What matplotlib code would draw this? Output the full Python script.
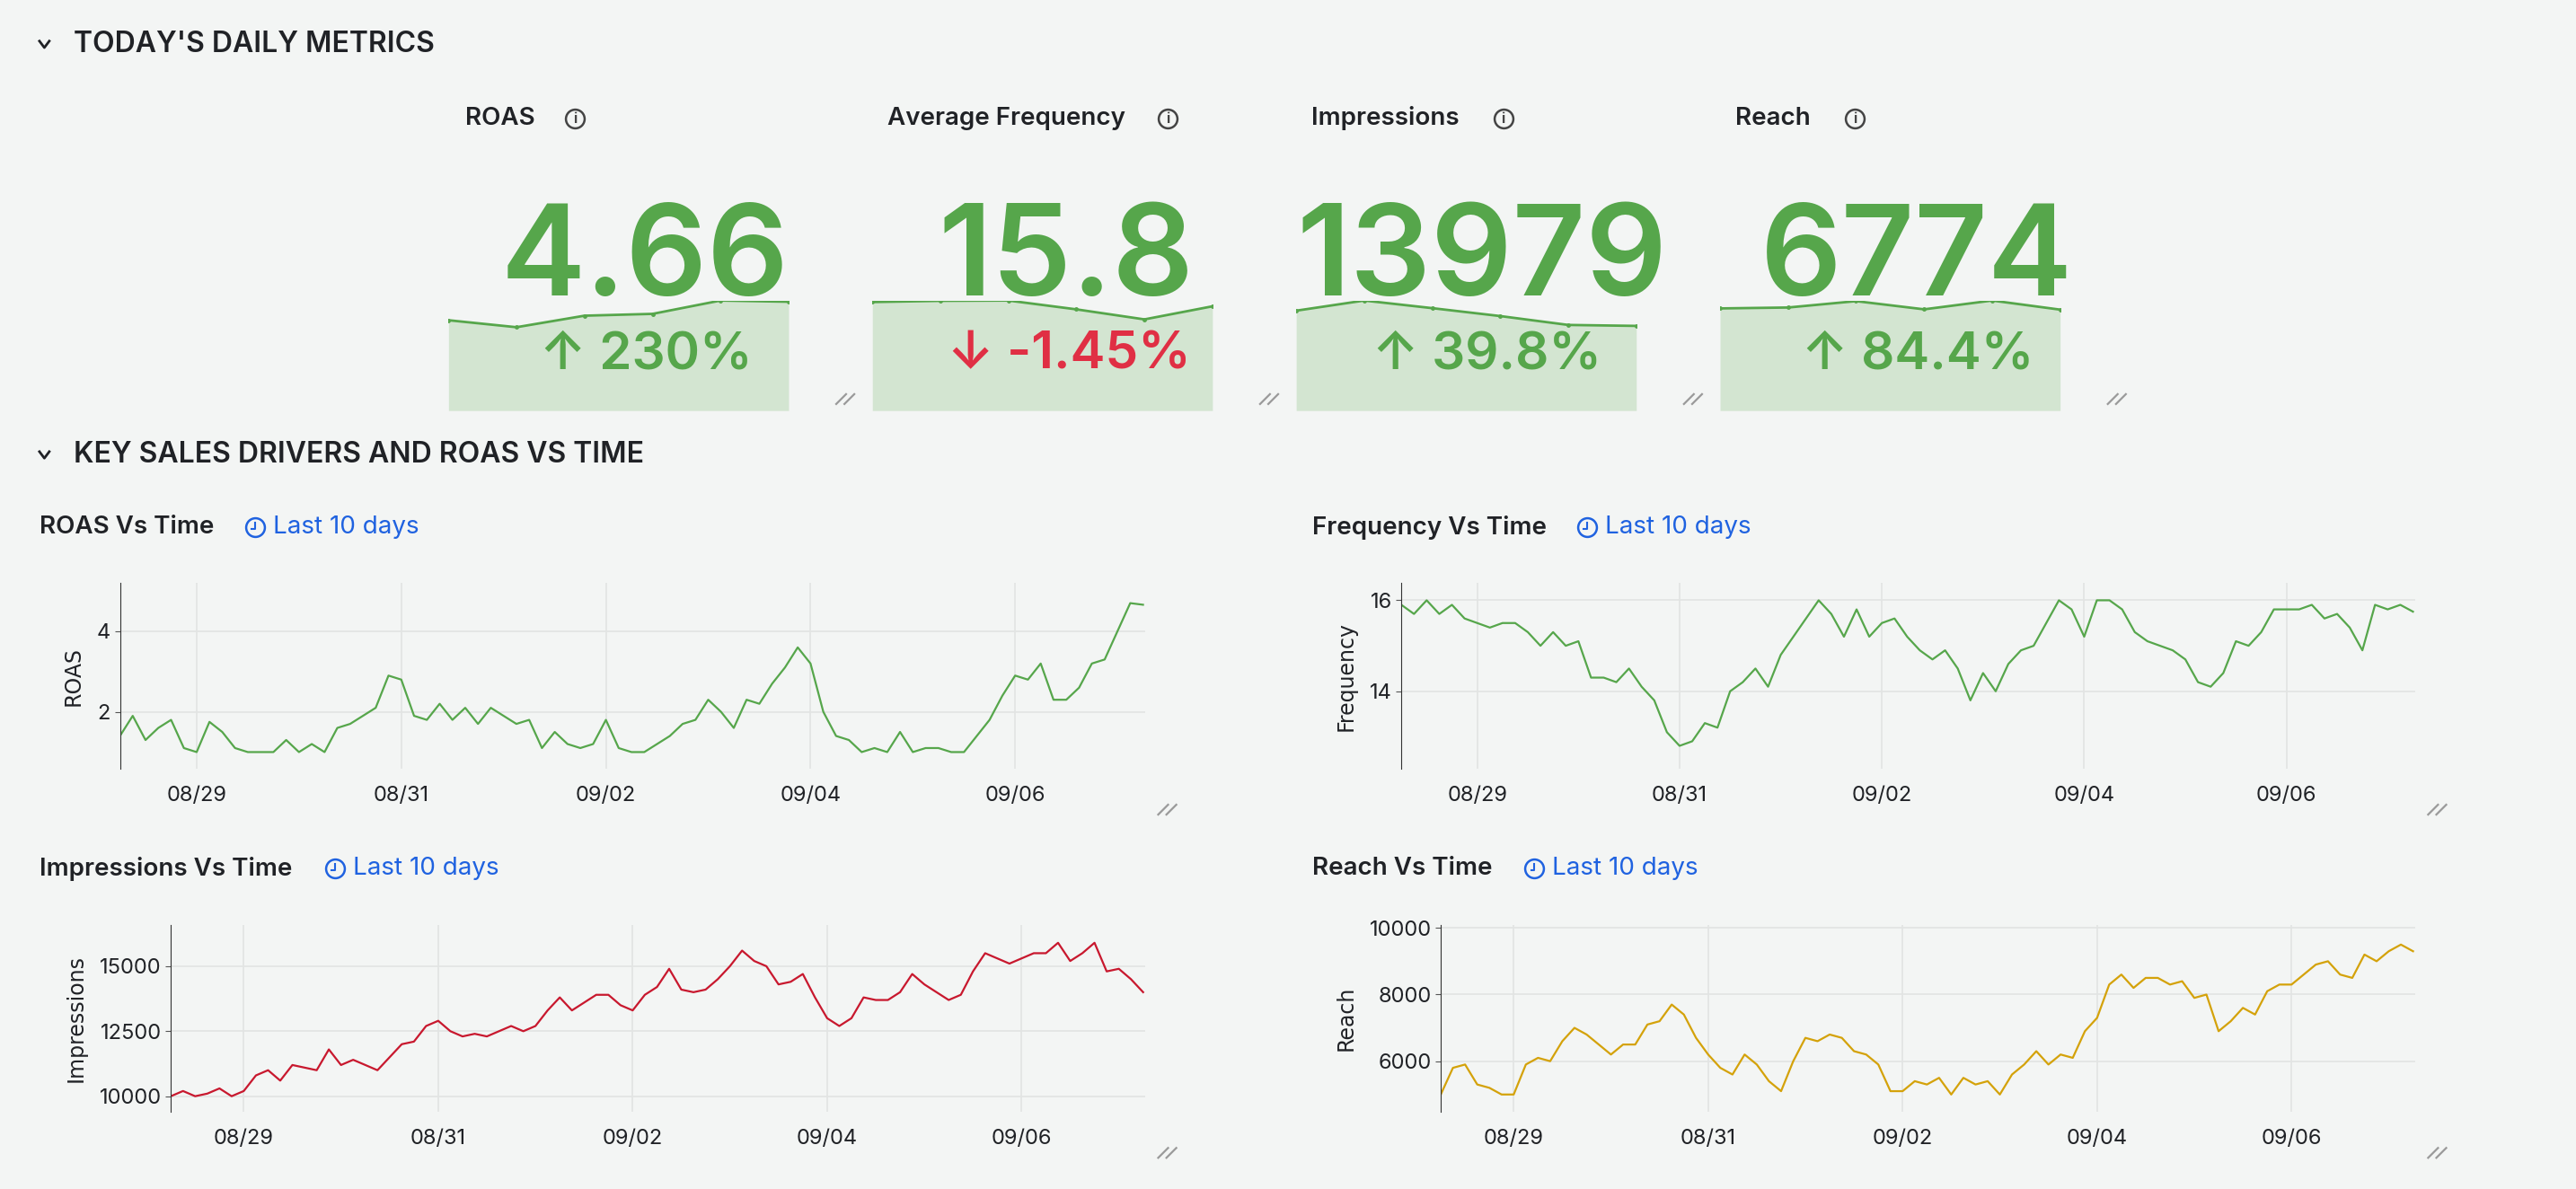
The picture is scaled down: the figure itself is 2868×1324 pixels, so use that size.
import matplotlib
matplotlib.use("Agg")
import matplotlib.pyplot as plt
import numpy as np
from matplotlib.lines import Line2D

plt.rcParams['font.family'] = ['Inter', 'DejaVu Sans']

# ---- data ----
kpi_titles = ['ROAS', 'Average Frequency', 'Impressions', 'Reach']
kpi_values = ['4.66', '15.8', '13979', '6774']
kpi_changes = ['230%', '-1.45%', '39.8%', '84.4%']
kpi_up = [True, False, True, True]
roas_spark = [298, 275, 313, 319, 363, 359]
freq_spark = [357, 361, 362, 333, 300, 343]
impr_spark = [315, 347, 323, 298, 270, 267]
reach_spark = [337, 340, 361, 334, 363, 333]

tick_days = [1, 3, 5, 7, 9]
tick_labels = ['08/29', '08/31', '09/02', '09/04', '09/06']

roas = [1.4, 1.9, 1.3, 1.6, 1.8, 1.1, 1.0, 1.75, 1.5, 1.1, 1.0, 1.0, 1.0, 1.3, 1.0, 1.2,
        1.0, 1.6, 1.7, 1.9, 2.1, 2.9, 2.8, 1.9, 1.8, 2.2, 1.8, 2.1, 1.7, 2.1, 1.9, 1.7,
        1.8, 1.1, 1.5, 1.2, 1.1, 1.2, 1.8, 1.1, 1.0, 1.0, 1.2, 1.4, 1.7, 1.8, 2.3, 2.0,
        1.6, 2.3, 2.2, 2.7, 3.1, 3.6, 3.2, 2.0, 1.4, 1.3, 1.0, 1.1, 1.0, 1.5, 1.0, 1.1,
        1.1, 1.0, 1.0, 1.4, 1.8, 2.4, 2.9, 2.8, 3.2, 2.3, 2.3, 2.6, 3.2, 3.3, 4.0, 4.7, 4.66]
freq = [15.9, 15.7, 16.0, 15.7, 15.9, 15.6, 15.5, 15.4, 15.5, 15.5, 15.3, 15.0, 15.3, 15.0,
        15.1, 14.3, 14.3, 14.2, 14.5, 14.1, 13.8, 13.1, 12.8, 12.9, 13.3, 13.2, 14.0, 14.2,
        14.5, 14.1, 14.8, 15.2, 15.6, 16.0, 15.7, 15.2, 15.8, 15.2, 15.5, 15.6, 15.2, 14.9,
        14.7, 14.9, 14.5, 13.8, 14.4, 14.0, 14.6, 14.9, 15.0, 15.5, 16.0, 15.8, 15.2, 16.0,
        16.0, 15.8, 15.3, 15.1, 15.0, 14.9, 14.7, 14.2, 14.1, 14.4, 15.1, 15.0, 15.3, 15.8,
        15.8, 15.8, 15.9, 15.6, 15.7, 15.4, 14.9, 15.9, 15.8, 15.9, 15.75]
impressions = [10000, 10200, 10000, 10100, 10300, 10000, 10200, 10800, 11000, 10600, 11200,
               11100, 11000, 11800, 11200, 11400, 11200, 11000, 11500, 12000, 12100, 12700,
               12900, 12500, 12300, 12400, 12300, 12500, 12700, 12500, 12700, 13300, 13800,
               13300, 13600, 13900, 13900, 13500, 13300, 13900, 14200, 14900, 14100, 14000,
               14100, 14500, 15000, 15600, 15200, 15000, 14300, 14400, 14700, 13800, 13000,
               12700, 13000, 13800, 13700, 13700, 14000, 14700, 14300, 14000, 13700, 13900,
               14800, 15500, 15300, 15100, 15300, 15500, 15500, 15900, 15200, 15500, 15900,
               14800, 14900, 14500, 14000]
reach = [5000, 5800, 5900, 5300, 5200, 5000, 5000, 5900, 6100, 6000, 6600, 7000, 6800, 6500,
         6200, 6500, 6500, 7100, 7200, 7700, 7400, 6700, 6200, 5800, 5600, 6200, 5900, 5400,
         5100, 6000, 6700, 6600, 6800, 6700, 6300, 6200, 5900, 5100, 5100, 5400, 5300, 5500,
         5000, 5500, 5300, 5400, 5000, 5600, 5900, 6300, 5900, 6200, 6100, 6900, 7300, 8300,
         8600, 8200, 8500, 8500, 8300, 8400, 7900, 8000, 6900, 7200, 7600, 7400, 8100, 8300,
         8300, 8600, 8900, 9000, 8600, 8500, 9200, 9000, 9300, 9500, 9300]

# ---- layout helpers (positions given on a 1568x724 grid) ----
W, H = 1568.0, 724.0
BG = '#f3f5f4'
GREEN = '#56a64b'
RED = '#e02f44'
DARK = '#202226'
BLUE = '#1f62e0'

fig = plt.figure(figsize=(28.68, 13.24), dpi=100, facecolor=BG)


def fx(x):
    return x / W


def fy(y):
    return 1 - y / H


def txt(x, y, s, **kw):
    fig.text(fx(x), fy(y), s, **kw)


def chevron(x, y):
    fig.add_artist(Line2D([fx(x - 3), fx(x), fx(x + 3)], [fy(y - 2), fy(y + 2), fy(y - 2)],
                          transform=fig.transFigure, color=DARK, lw=2))


def resize_icon(x, y):
    for d in (0, 5):
        fig.add_artist(Line2D([fx(x + d - 6), fx(x + d)], [fy(y + 3), fy(y - 3)],
                              transform=fig.transFigure, color='#9a9a9a', lw=1.6))


def circle_icon(x, y, color, label=None):
    fig.add_artist(Line2D([fx(x)], [fy(y)], transform=fig.transFigure, marker='o',
                          markersize=15, mfc='none', mec=color, mew=1.8))
    if label:
        txt(x, y + 0.5, label, ha='center', va='center', fontsize=11, color=color,
            fontweight='bold')


# section headers
chevron(27, 27)
txt(45, 27, "TODAY'S DAILY METRICS", fontsize=23, fontweight='semibold', color=DARK, va='center')
chevron(27, 277)
txt(45, 277, "KEY SALES DRIVERS AND ROAS VS TIME", fontsize=23, fontweight='semibold',
    color=DARK, va='center')

# ---- KPI cards ----
card_left = [273, 531, 789, 1047]
card_w = 207
title_x = [283, 540, 798, 1056]
icon_x = [350, 711, 915, 1129]
value_right = [480, 727, 1015, 1262]
pct_right = [458, 725, 975, 1238]
sparks = [roas_spark, freq_spark, impr_spark, reach_spark]

for i in range(4):
    x0 = card_left[i]
    txt(title_x[i], 72, kpi_titles[i], fontsize=20, fontweight='semibold', color=DARK, va='center')
    circle_icon(icon_x[i], 72, '#444444', 'i')
    ax = fig.add_axes([fx(x0), fy(250), card_w / W, (250 - 183) / H])
    ax.set_facecolor('none')
    xs = np.arange(len(sparks[i]))
    ax.fill_between(xs, sparks[i], 0, color='#d3e5d1', lw=0)
    ax.plot(xs, sparks[i], color=GREEN, lw=2, marker='o', markersize=2.5)
    ax.set_xlim(0, len(xs) - 1)
    ax.set_ylim(0, max(sparks[i]))
    ax.axis('off')
    txt(value_right[i], 180, kpi_values[i], fontsize=102, fontweight='semibold', color=GREEN,
        ha='right', va='baseline')
    col = GREEN if kpi_up[i] else RED
    arrow = '\u2191' if kpi_up[i] else '\u2193'
    txt(pct_right[i], 216, arrow + ' ' + kpi_changes[i], fontsize=42, fontweight='semibold',
        color=col, ha='right', va='center')
    resize_icon(x0 + 242, 243)

# ---- time series panels ----
panels = [
    ('ROAS Vs Time', 'ROAS', roas, GREEN, 24, 321, 150, (73, 697, 355, 468), (0.59, 5.2), [2, 4]),
    ('Frequency Vs Time', 'Frequency', freq, GREEN, 799, 321, 961, (853, 1470, 355, 468),
     (12.3, 16.38), [14, 16]),
    ('Impressions Vs Time', 'Impressions', impressions, '#c8182e', 24, 529, 199,
     (104, 697, 563, 677), (9400, 16600), [10000, 12500, 15000]),
    ('Reach Vs Time', 'Reach', reach, '#d4a20a', 799, 529, 929, (877, 1470, 563, 677),
     (4480, 10100), [6000, 8000, 10000]),
]

for title, ylab, series, col, tx, ty, cx, box, ylim, yticks in panels:
    txt(tx, ty, title, fontsize=20, fontweight='semibold', color=DARK, va='center')
    circle_icon(cx + 5, ty, BLUE)
    fig.add_artist(Line2D([fx(cx + 5), fx(cx + 5), fx(cx + 3)], [fy(ty - 3), fy(ty + 1), fy(ty + 1)],
                          transform=fig.transFigure, color=BLUE, lw=1.5))
    txt(cx + 16, ty, 'Last 10 days', fontsize=20, color=BLUE, va='center')

    l, r, t, b = box
    ax = fig.add_axes([fx(l), fy(b), (r - l) / W, (b - t) / H])
    ax.set_facecolor('none')
    days = 0.25 + 0.125 * np.arange(len(series))
    ax.plot(days, series, color=col, lw=1.6)
    ax.set_xlim(0.25, 10.27)
    ax.set_ylim(*ylim)
    ax.set_xticks(tick_days)
    ax.set_xticklabels(tick_labels)
    ax.set_yticks(yticks)
    ax.grid(True, color='#e2e4e3', lw=1.2)
    ax.set_axisbelow(True)
    for s in ('top', 'right', 'bottom'):
        ax.spines[s].set_visible(False)
    ax.spines['left'].set_color('#333333')
    ax.tick_params(axis='x', length=0, pad=14, labelsize=17, labelcolor=DARK)
    ax.tick_params(axis='y', length=4, labelsize=17, labelcolor=DARK, color='#555555')
    ax.set_ylabel(ylab, fontsize=17, color=DARK, family='DejaVu Sans', labelpad=10)
    resize_icon(r + 14, b + 25)

fig.savefig('out.png', dpi=100, facecolor=BG)
